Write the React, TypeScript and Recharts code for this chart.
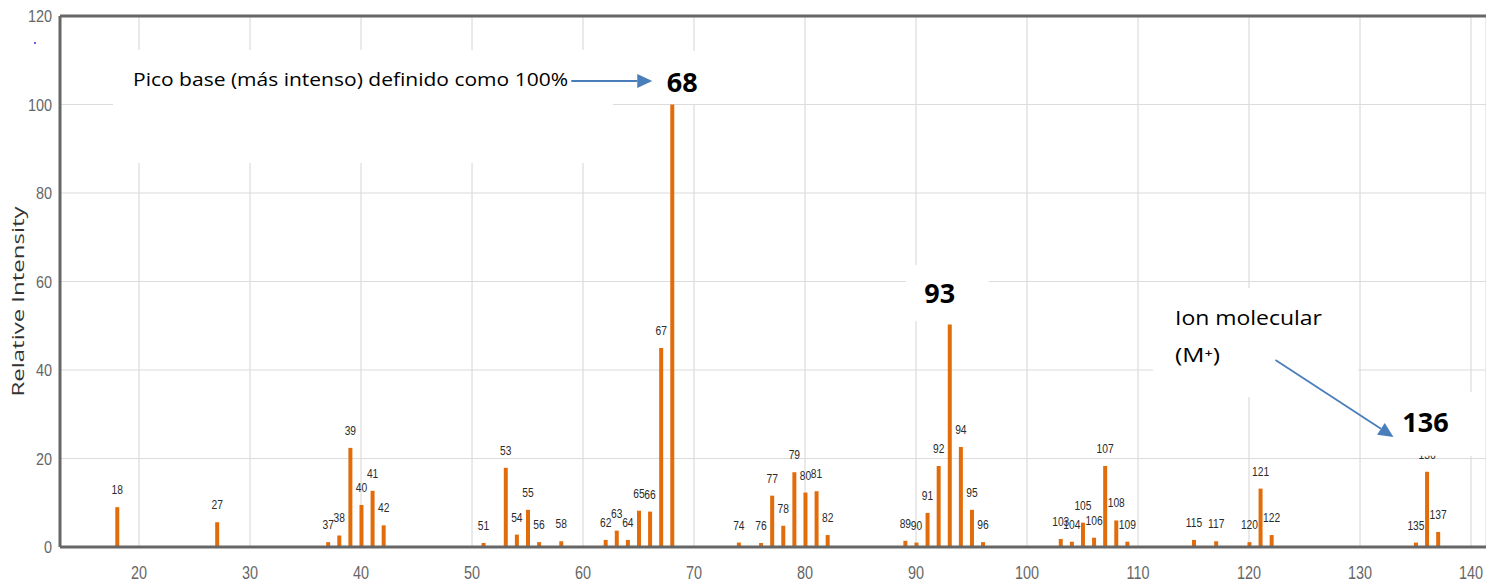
import {
  ComposedChart,
  Bar,
  XAxis,
  YAxis,
  CartesianGrid,
  LabelList,
  ReferenceArea,
  ReferenceLine,
  ReferenceDot,
} from "recharts";

// m/z of every fragment peak and its relative intensity (%)
const massToCharge = [
  18, 27, 37, 38, 39, 40, 41, 42, 51, 53, 54, 55, 56, 58, 62, 63, 64, 65, 66, 67,
  68, 74, 76, 77, 78, 79, 80, 81, 82, 89, 90, 91, 92, 93, 94, 95, 96, 103, 104,
  105, 106, 107, 108, 109, 115, 117, 120, 121, 122, 135, 136, 137,
];
const relativeIntensity = [
  9.0, 5.6, 1.1, 2.6, 22.4, 9.5, 12.7, 4.9, 0.9, 17.9, 2.8, 8.4, 1.1, 1.3, 1.6,
  3.7, 1.6, 8.2, 8.0, 45.0, 100, 1.0, 0.9, 11.6, 4.8, 16.9, 12.3, 12.6, 2.7, 1.4,
  1.0, 7.7, 18.3, 50.3, 22.6, 8.4, 1.1, 1.8, 1.2, 5.5, 2.1, 18.3, 6.0, 1.2, 1.6,
  1.3, 1.1, 13.2, 2.7, 1.0, 17.0, 3.4,
];
const xTicks = [20, 30, 40, 50, 60, 70, 80, 90, 100, 110, 120, 130, 140];
const yTicks = [0, 20, 40, 60, 80, 100, 120];

const peaks = massToCharge.map((mz, i) => ({ mz, intensity: relativeIntensity[i] }));

const SANS = "'Liberation Sans', Arimo, sans-serif";
const NOTE = "'Open Sans', 'Noto Sans', sans-serif";
const AXIS = "#666";
const ORANGE = "#e36c0a";
const BLUE = "#4a7ebb";

// straight line with a filled triangular head at (x2, y2)
function Arrow({ x1, y1, x2, y2 }: any) {
  const a = Math.atan2(y2 - y1, x2 - x1);
  const len = 15;
  const half = 7;
  const bx = x2 - len * Math.cos(a);
  const by = y2 - len * Math.sin(a);
  const nx = -Math.sin(a) * half;
  const ny = Math.cos(a) * half;
  return (
    <g>
      <line x1={x1} y1={y1} x2={bx} y2={by} stroke={BLUE} strokeWidth={1.8} />
      <polygon points={`${x2},${y2} ${bx + nx},${by + ny} ${bx - nx},${by - ny}`} fill={BLUE} />
    </g>
  );
}

function BigNumber({ x, y, text }: { x: number; y: number; text: string }) {
  return (
    <text x={x} y={y} textAnchor="middle" fontFamily={NOTE} fontSize={27} fontWeight={700} fill="#000">
      {text}
    </text>
  );
}

function note(text: string, size: number, length: number) {
  return (p: any) => (
    <text x={p.cx} y={p.cy} fontFamily={NOTE} fontSize={size} fill="#000"
      textLength={length} lengthAdjust="spacingAndGlyphs">
      {text}
    </text>
  );
}

// peak number above each bar; the three highlighted peaks also get their
// white callout box, big number and pointer arrow drawn on top
function PeakLabel(p: any) {
  const vb = p.viewBox ?? p;
  const cx = vb.x + vb.width / 2;
  const top = vb.y;
  const mz = Number(p.value);
  return (
    <g>
      <text transform={`translate(${cx},${top - 13}) scale(0.82,1)`} textAnchor="middle"
        fontFamily={SANS} fontSize={12.5} fill="#2b2b2b">
        {mz}
      </text>
      {mz === 68 && (
        <g>
          <rect x={cx - 25} y={top - 53.5} width={81} height={53} fill="#fff" />
          <Arrow x1={cx - 101} y1={top - 23.5} x2={cx - 20} y2={top - 23.5} />
          <BigNumber x={cx + 10} y={top - 12.5} text="68" />
        </g>
      )}
      {mz === 93 && (
        <g>
          <rect x={cx - 44} y={top - 59.4} width={83} height={56} fill="#fff" />
          <BigNumber x={cx - 10} y={top - 21.4} text="93" />
        </g>
      )}
      {mz === 136 && (
        <g>
          <rect x={cx - 64} y={top - 80} width={118} height={64} fill="#fff" />
          <Arrow x1={cx - 151.6} y1={top - 111.8} x2={cx - 33.6} y2={top - 34.8} />
          <BigNumber x={cx - 1.6} y={top - 39.8} text="136" />
        </g>
      )}
    </g>
  );
}

function XTick({ x, y, payload }: any) {
  return (
    <text transform={`translate(${x},${y + 16}) scale(0.76,1)`} textAnchor="middle"
      fontFamily={SANS} fontSize={19} fill={AXIS}>
      {payload.value}
    </text>
  );
}

function YTick({ x, y, payload }: any) {
  return (
    <text transform={`translate(${x},${y + 6}) scale(0.85,1)`} textAnchor="end"
      fontFamily={SANS} fontSize={17} fill={AXIS}>
      {payload.value}
    </text>
  );
}

function YTitle(p: any) {
  const vb = p.viewBox ?? { x: 0, y: 16, width: 60, height: 531 };
  const cx = vb.x + 17;
  const cy = vb.y + vb.height / 2 + 20;
  return (
    <text x={cx} y={cy} transform={`rotate(-90 ${cx} ${cy})`} textAnchor="middle"
      dominantBaseline="central" fontFamily={NOTE} fontSize={17} fill="#333"
      textLength={190} lengthAdjust="spacingAndGlyphs">
      Relative Intensity
    </text>
  );
}

const boxStyle = { fill: "#fff", fillOpacity: 1, stroke: "none", ifOverflow: "visible" as const };

export default function App() {
  return (
    <div style={{ position: "absolute", left: 0, top: 0, width: 1486, height: 583, background: "#fff" }}>
      <div style={{ position: "absolute", left: 34, top: 42, width: 2, height: 2, background: "#6a5cf0" }} />
      <ComposedChart
        width={1486}
        height={583}
        data={peaks}
        margin={{ top: 16, right: 0, left: 0, bottom: 0 }}
      >
        <CartesianGrid stroke="#dcdcdc" strokeWidth={1.2} />
        <XAxis
          type="number"
          dataKey="mz"
          domain={[12.88, 141.35]}
          allowDataOverflow
          ticks={xTicks}
          interval={0}
          height={36}
          tickLine={false}
          tickMargin={10}
          axisLine={{ stroke: AXIS, strokeWidth: 3 }}
          tick={<XTick />}
        />
        <YAxis
          type="number"
          domain={[0, 120]}
          ticks={yTicks}
          interval={0}
          width={60}
          tickLine={false}
          axisLine={{ stroke: AXIS, strokeWidth: 3 }}
          tick={<YTick />}
          label={{ value: "Relative Intensity", position: "insideLeft", content: YTitle }}
        />
        <ReferenceLine y={120} stroke={AXIS} strokeWidth={3} />

        {/* white backgrounds behind the two text notes */}
        <ReferenceArea x1={17.66} x2={62.7} y1={86.8} y2={112.3} {...boxStyle} />
        <ReferenceArea x1={111.35} x2={129.8} y1={33.9} y2={58.5} {...boxStyle} />

        <ReferenceDot x={19.46} y={104.2} r={0} ifOverflow="visible"
          shape={note("Pico base (más intenso) definido como 100%", 18, 435)} />
        <ReferenceDot x={113.33} y={50.2} r={0} ifOverflow="visible" shape={note("Ion molecular", 20, 147)} />
        <ReferenceDot x={113.33} y={41.8} r={0} ifOverflow="visible" shape={note("(M⁺)", 20, 45)} />

        <Bar dataKey="intensity" fill={ORANGE} barSize={4} isAnimationActive={false}>
          <LabelList dataKey="mz" position="top" content={PeakLabel} />
        </Bar>
      </ComposedChart>
    </div>
  );
}
